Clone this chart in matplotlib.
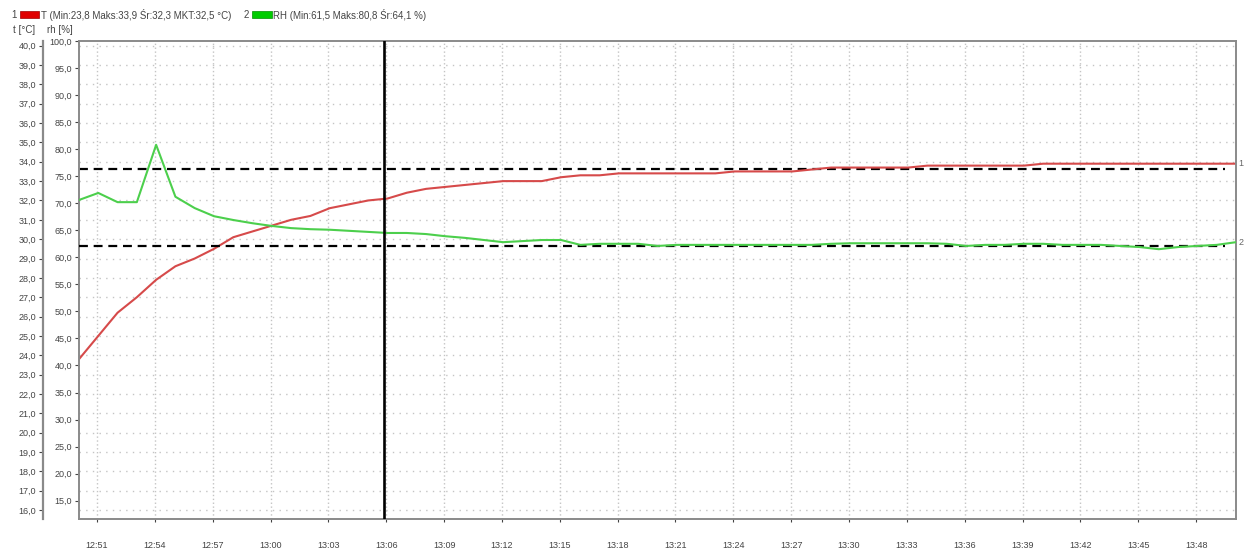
import numpy as np
import matplotlib
matplotlib.use("Agg")
import matplotlib.pyplot as plt
from matplotlib.patches import Rectangle
from matplotlib.ticker import FuncFormatter, FixedLocator

plt.rcParams['font.family'] = ['Liberation Sans', 'DejaVu Sans']

# logger samples, one per minute starting 12:50:04
start_time = "12:50:04"
n_samples = 61

temp = [23.8, 25.0, 26.2, 27.0, 27.9, 28.6, 29.0, 29.5, 30.1, 30.4,
        30.7, 31.0, 31.2, 31.6, 31.8, 32.0, 32.1, 32.4, 32.6, 32.7,
        32.8, 32.9, 33.0, 33.0, 33.0, 33.2, 33.3, 33.3, 33.4, 33.4,
        33.4, 33.4, 33.4, 33.4, 33.5, 33.5, 33.5, 33.5, 33.6, 33.7,
        33.7, 33.7, 33.7, 33.7, 33.8, 33.8, 33.8, 33.8, 33.8, 33.8,
        33.9, 33.9, 33.9, 33.9, 33.9, 33.9, 33.9, 33.9, 33.9, 33.9,
        33.9]

rh = [70.6, 71.9, 70.2, 70.2, 80.8, 71.2, 69.1, 67.6, 66.9, 66.3,
      65.8, 65.4, 65.2, 65.1, 64.9, 64.7, 64.5, 64.5, 64.3, 63.9,
      63.6, 63.2, 62.8, 63.0, 63.2, 63.2, 62.3, 62.5, 62.5, 62.5,
      62.1, 62.3, 62.3, 62.3, 62.3, 62.3, 62.3, 62.3, 62.3, 62.5,
      62.6, 62.6, 62.6, 62.6, 62.6, 62.5, 62.1, 62.3, 62.3, 62.5,
      62.5, 62.3, 62.3, 62.3, 62.1, 61.9, 61.5, 61.9, 62.1, 62.3,
      62.8]

temp_limit = 33.6
rh_limit = 62.0
cursor_time = "13:05:52"

x_tick_labels = ["12:51", "12:54", "12:57", "13:00", "13:03", "13:06", "13:09",
                 "13:12", "13:15", "13:18", "13:21", "13:24", "13:27", "13:30",
                 "13:33", "13:36", "13:39", "13:42", "13:45", "13:48"]
temp_ticks = list(range(16, 41))
rh_ticks = list(range(15, 101, 5))

legend_1 = "T (Min:23,8 Maks:33,9 Śr:32,3 MKT:32,5 °C)"
legend_2 = "RH (Min:61,5 Maks:80,8 Śr:64,1 %)"


def to_minutes(s):
    parts = [int(p) for p in s.split(":")]
    m = (parts[0] - 12) * 60 + parts[1]
    if len(parts) > 2:
        m += parts[2] / 60.0
    return m


times = to_minutes(start_time) + np.arange(n_samples)
x_ticks = [to_minutes(s) for s in x_tick_labels]
comma = FuncFormatter(lambda v, p: f"{v:.1f}".replace(".", ","))

W, H = 1249, 551
fig = plt.figure(figsize=(W / 100, H / 100), dpi=100)
ax = fig.add_axes([79 / W, 1 - 519 / H, (1236 - 79) / W, (519 - 41) / H])
ax2 = ax.twinx()

frame_col = "#8a8a8a"
text_col = "#444444"

# temperature axis (outer left)
ax.set_ylim(15.54, 40.24)
ax.set_xlim(times[0], times[-1])
ax.yaxis.set_major_locator(FixedLocator(temp_ticks))
ax.yaxis.set_major_formatter(comma)
ax.spines['left'].set_position(('outward', 26))
ax.spines['left'].set_color(frame_col)
ax.spines['left'].set_linewidth(1.6)
for s in ['top', 'right', 'bottom']:
    ax.spines[s].set_visible(False)
ax.tick_params(axis='y', direction='out', length=3, width=0.8, color=text_col,
               labelsize=6.5, labelcolor=text_col, pad=2)

# humidity axis at plot edge
ax2.set_ylim(11.61, 100)
ax2.yaxis.tick_left()
ax2.yaxis.set_label_position('left')
ax2.yaxis.set_major_locator(FixedLocator(rh_ticks))
ax2.yaxis.set_major_formatter(comma)
for s in ['top', 'right', 'bottom', 'left']:
    ax2.spines[s].set_color(frame_col)
    ax2.spines[s].set_linewidth(1.4)
ax2.tick_params(axis='y', direction='out', length=3, width=0.8, color=text_col,
                labelsize=6.5, labelcolor=text_col, pad=2)

ax.set_xticks(x_ticks)
ax.set_xticklabels(x_tick_labels)
ax.tick_params(axis='x', direction='out', length=2, width=0.8, color=text_col,
               labelsize=6.5, labelcolor=text_col, pad=14)
ax2.tick_params(axis='x', length=0)

# dotted grid
for t in temp_ticks:
    ax.axhline(t, color="#c4c4c4", lw=1.0, ls=(0, (1, 3.8)), zorder=0)
for xt in x_ticks:
    ax.axvline(xt, color="#c4c4c4", lw=1.0, ls=(0, (1, 1.8)), zorder=0)

# limit lines
x_end = times[0] + (1225 - 79) / 19.28
ax.plot([times[0], x_end], [temp_limit, temp_limit], color="black", lw=1.6,
        dashes=(4, 2.6), zorder=3)
ax2.plot([times[0], x_end], [rh_limit, rh_limit], color="black", lw=1.6,
         dashes=(4, 2.6), zorder=3)

ax.plot(times, temp, color="#d64a4a", lw=1.5, zorder=4)
ax2.plot(times, rh, color="#4ccf4c", lw=1.5, zorder=4)

ax2.axvline(to_minutes(cursor_time), color="black", lw=1.9, zorder=5)

ax.annotate("1", (times[-1], temp[-1]), xytext=(2, 0), textcoords="offset points",
            fontsize=6.5, color="#666666", va="center", annotation_clip=False)
ax2.annotate("2", (times[-1], rh[-1]), xytext=(2, 0), textcoords="offset points",
             fontsize=6.5, color="#666666", va="center", annotation_clip=False)

# header legend
fig.text(11 / W, 1 - 15 / H, "1", fontsize=7, color=text_col, va="center")
fig.patches.append(Rectangle((20 / W, 1 - 18 / H), 19 / W, 7 / H, transform=fig.transFigure,
                             facecolor="#e00000", edgecolor="#a00000", lw=0.5))
fig.text(41 / W, 1 - 15 / H, legend_1, fontsize=7, color=text_col, va="center")
fig.text(244 / W, 1 - 15 / H, "2", fontsize=7, color=text_col, va="center")
fig.patches.append(Rectangle((252 / W, 1 - 18 / H), 20 / W, 7 / H, transform=fig.transFigure,
                             facecolor="#00cc00", edgecolor="#009000", lw=0.5))
fig.text(273 / W, 1 - 15 / H, legend_2, fontsize=7, color=text_col, va="center")
fig.text(13 / W, 1 - 30 / H, "t [°C]", fontsize=7, color=text_col, va="center")
fig.text(47 / W, 1 - 30 / H, "rh [%]", fontsize=7, color=text_col, va="center")

plt.savefig("out.png", dpi=100)
